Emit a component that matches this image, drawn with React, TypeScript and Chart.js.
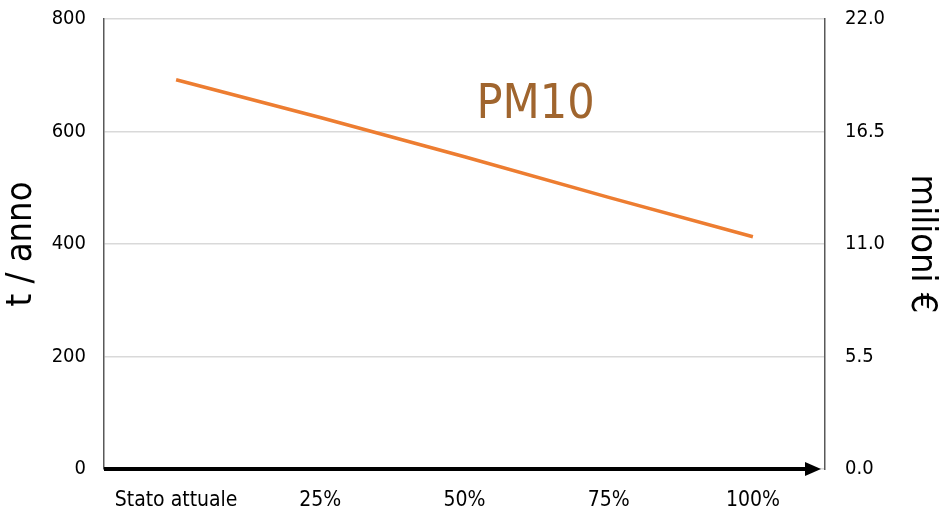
import React, { useEffect, useRef } from "react";
import { Chart, registerables } from "chart.js";

Chart.register(...registerables);

const categories = ["Stato attuale", "25%", "50%", "75%", "100%"];
const pm10Values = [692, 625, 555, 483, 413];
const leftTicks = [0, 200, 400, 600, 800];
const rightTicks = [0, 5.5, 11, 16.5, 22];
const chartTitle = "PM10";
const leftTitle = "t / anno";
const rightTitle = "milioni €";

const FONT = "'DejaVu Sans Condensed', 'DejaVu Sans', sans-serif";

const overlayPlugin = {
  id: "overlay",
  afterDraw(chart: any) {
    const { ctx, chartArea } = chart;
    const y = chart.scales.y.getPixelForValue(0);
    ctx.save();
    ctx.strokeStyle = "#000";
    ctx.fillStyle = "#000";
    ctx.lineWidth = 4;
    ctx.beginPath();
    ctx.moveTo(chartArea.left, y);
    ctx.lineTo(chartArea.right - 14, y);
    ctx.stroke();
    ctx.beginPath();
    ctx.moveTo(chartArea.right - 4, y);
    ctx.lineTo(chartArea.right - 20, y - 7);
    ctx.lineTo(chartArea.right - 20, y + 7);
    ctx.closePath();
    ctx.fill();
    ctx.fillStyle = "#A0652E";
    ctx.font = `48px ${FONT}`;
    ctx.textAlign = "center";
    ctx.textBaseline = "middle";
    const tx = chart.scales.x.getPixelForValue(2) + 71;
    const ty = chart.scales.y.getPixelForValue(647);
    ctx.fillText(chartTitle, tx, ty);
    ctx.restore();
  },
};

export default function App() {
  const ref = useRef<HTMLCanvasElement>(null);
  useEffect(() => {
    if (!ref.current) return;
    const chart = new Chart(ref.current, {
      type: "line",
      data: {
        labels: categories,
        datasets: [
          {
            label: chartTitle,
            data: pm10Values,
            borderColor: "#ED7D31",
            backgroundColor: "#ED7D31",
            borderWidth: 3.5,
            pointRadius: 0,
            tension: 0,
            yAxisID: "y",
          },
        ],
      },
      options: {
        animation: false,
        responsive: true,
        maintainAspectRatio: false,
        layout: { padding: { top: 18, left: 0, right: 0, bottom: 0 } },
        plugins: { legend: { display: false }, tooltip: { enabled: false } },
        scales: {
          x: {
            offset: true,
            grid: { display: false },
            border: { display: false },
            ticks: {
              color: "#000",
              font: { family: FONT, size: 21 },
              padding: 11,
              maxRotation: 0,
              autoSkip: false,
            },
            afterFit(scale: any) {
              scale.height = 50;
            },
          },
          y: {
            position: "left",
            min: 0,
            max: 800,
            afterBuildTicks(scale: any) {
              scale.ticks = leftTicks.map((v) => ({ value: v }));
            },
            grid: { color: "#d9d9d9", lineWidth: 1.5, drawTicks: false },
            border: { display: true, color: "#595959", width: 1.5 },
            ticks: {
              color: "#000",
              font: { family: FONT, size: 20, lineHeight: 0.2 },
              padding: 18,
            },
            title: {
              display: true,
              text: leftTitle,
              color: "#000",
              font: { family: FONT, size: 36 },
              padding: { top: 0, bottom: 0 },
            },
            afterFit(scale: any) {
              scale.width = 104;
            },
          },
          y1: {
            position: "right",
            min: 0,
            max: 22,
            afterBuildTicks(scale: any) {
              scale.ticks = rightTicks.map((v) => ({ value: v }));
            },
            grid: { display: false, drawTicks: false },
            border: { display: true, color: "#595959", width: 1.5 },
            ticks: {
              color: "#000",
              font: { family: FONT, size: 20, lineHeight: 0.2 },
              padding: 20,
              callback: (v: any) => Number(v).toFixed(1),
            },
            title: {
              display: true,
              text: rightTitle,
              color: "#000",
              font: { family: FONT, size: 36 },
              padding: { top: 0, bottom: 0 },
            },
            afterFit(scale: any) {
              scale.width = 118;
            },
          },
        },
      },
      plugins: [overlayPlugin],
    });
    return () => chart.destroy();
  }, []);
  return (
    <div style={{ position: "fixed", left: 0, top: -3, width: 943, height: 522, background: "#fff" }}>
      <canvas ref={ref} />
    </div>
  );
}
